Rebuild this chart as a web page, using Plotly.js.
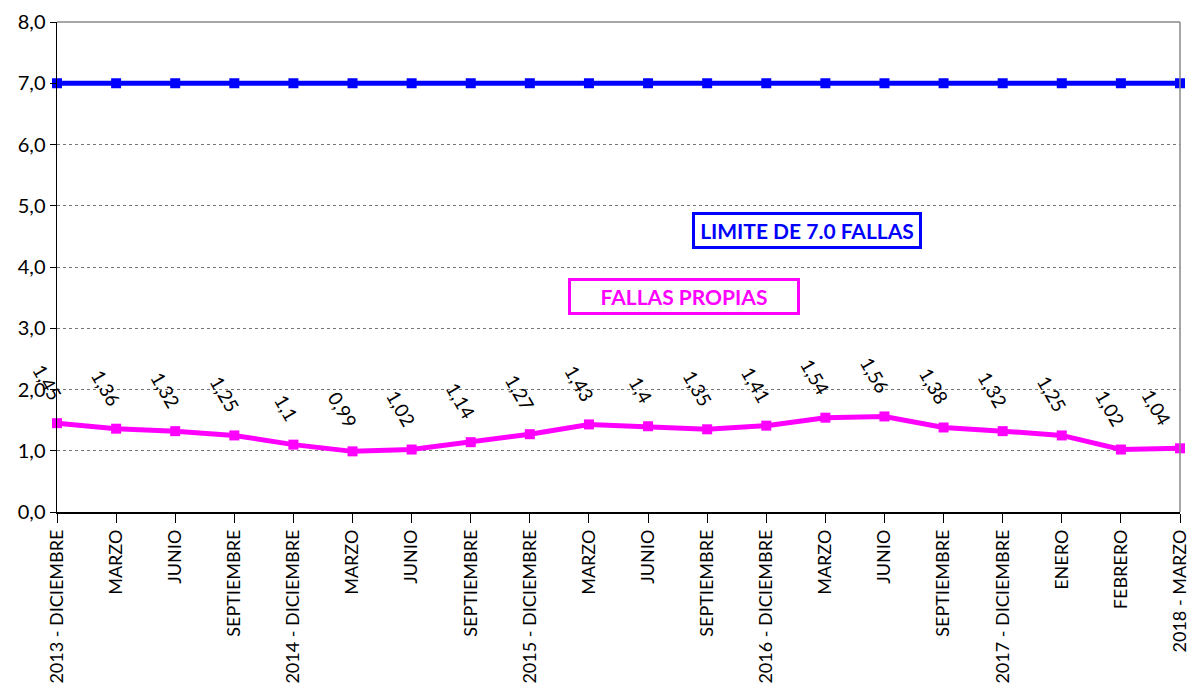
<!DOCTYPE html>
<html>
<head>
<meta charset="utf-8">
<script src="https://cdn.plot.ly/plotly-3.0.1.min.js"></script>
<style>html,body{margin:0;padding:0;background:#fff;}#chart{width:1189px;height:686px;}</style>
</head>
<body>
<div id="chart"></div>
<script>
const categories = ["2013 - DICIEMBRE","MARZO","JUNIO","SEPTIEMBRE","2014 - DICIEMBRE","MARZO","JUNIO","SEPTIEMBRE","2015 - DICIEMBRE","MARZO","JUNIO","SEPTIEMBRE","2016 - DICIEMBRE","MARZO","JUNIO","SEPTIEMBRE","2017 - DICIEMBRE","ENERO","FEBRERO","2018 - MARZO"];
const limite = [7,7,7,7,7,7,7,7,7,7,7,7,7,7,7,7,7,7,7,7];
const fallasPropias = [1.45,1.36,1.32,1.25,1.1,0.99,1.02,1.14,1.27,1.43,1.4,1.35,1.41,1.54,1.56,1.38,1.32,1.25,1.02,1.04];
const yTicks = [0,1,2,3,4,5,6,7,8];

const FONT = "Lato, 'DejaVu Sans', sans-serif";
const xIdx = categories.map((_, i) => i);
const lastIdx = categories.length - 1;

const traces = [
  {x: xIdx, y: limite, type: 'scatter', mode: 'lines+markers', name: 'LIMITE DE 7.0 FALLAS',
   line: {color: '#0000FF', width: 5}, marker: {symbol: 'square', size: 10, color: '#0000FF'}, cliponaxis: false},
  {x: xIdx, y: fallasPropias, type: 'scatter', mode: 'lines+markers', name: 'FALLAS PROPIAS',
   line: {color: '#FF00FF', width: 5}, marker: {symbol: 'square', size: 10, color: '#FF00FF'}, cliponaxis: false}
];

const annotations = fallasPropias.map((v, i) => ({
  x: i, y: v, xref: 'x', yref: 'y',
  text: String(v).replace('.', ','),
  showarrow: false, textangle: 60,
  xanchor: 'right', yanchor: 'bottom',
  xshift: i === lastIdx ? -2 : 12, yshift: 17,
  font: {family: FONT, size: 19, color: '#000'}
}));

annotations.push({
  xref: 'paper', yref: 'paper', x: (807 - 57) / (1180 - 57), y: (512 - 230) / (512 - 22),
  xanchor: 'center', yanchor: 'middle',
  text: '<b>LIMITE DE 7.0 FALLAS</b>', showarrow: false,
  font: {family: FONT, size: 21, color: '#0000FF'},
  bordercolor: '#0000FF', borderwidth: 3, borderpad: 4, bgcolor: '#fff',
  width: 216, height: 23
});
annotations.push({
  xref: 'paper', yref: 'paper', x: (684 - 57) / (1180 - 57), y: (512 - 296) / (512 - 22),
  xanchor: 'center', yanchor: 'middle',
  text: '<b>FALLAS PROPIAS</b>', showarrow: false,
  font: {family: FONT, size: 21, color: '#FF00FF'},
  bordercolor: '#FF00FF', borderwidth: 3, borderpad: 4, bgcolor: '#fff',
  width: 218, height: 23
});

const layout = {
  width: 1189, height: 686,
  margin: {l: 57, r: 9, t: 22, b: 174},
  paper_bgcolor: '#fff', plot_bgcolor: '#fff',
  separators: ', ',
  showlegend: false,
  xaxis: {
    range: [0, categories.length - 1],
    tickmode: 'array', tickvals: xIdx, ticktext: categories,
    tickangle: -90, ticks: 'outside', ticklen: 9, tickcolor: '#000', tickwidth: 1,
    ticklabeloverflow: 'allow',
    showline: true, linecolor: '#000', linewidth: 1.5,
    showgrid: false, zeroline: false,
    tickfont: {family: FONT, size: 18, color: '#000'}
  },
  yaxis: {
    range: [0, 8], tickmode: 'array', tickvals: yTicks, tickformat: '.1f',
    ticks: 'outside', ticklen: 6, tickcolor: '#000',
    ticklabeloverflow: 'allow',
    showline: true, linecolor: '#000', linewidth: 1.5,
    showgrid: true, gridcolor: '#777', griddash: 'dot', gridwidth: 1,
    zeroline: false,
    tickfont: {family: FONT, size: 20, color: '#000'}
  },
  shapes: [
    {type: 'line', xref: 'paper', yref: 'paper', x0: 0, x1: 1, y0: 1, y1: 1, line: {color: '#888', width: 1.5}},
    {type: 'line', xref: 'paper', yref: 'paper', x0: 1, x1: 1, y0: 0, y1: 1, line: {color: '#888', width: 1.5}}
  ],
  annotations: annotations
};

Plotly.newPlot('chart', traces, layout, {displayModeBar: false, staticPlot: true});
</script>
</body>
</html>
